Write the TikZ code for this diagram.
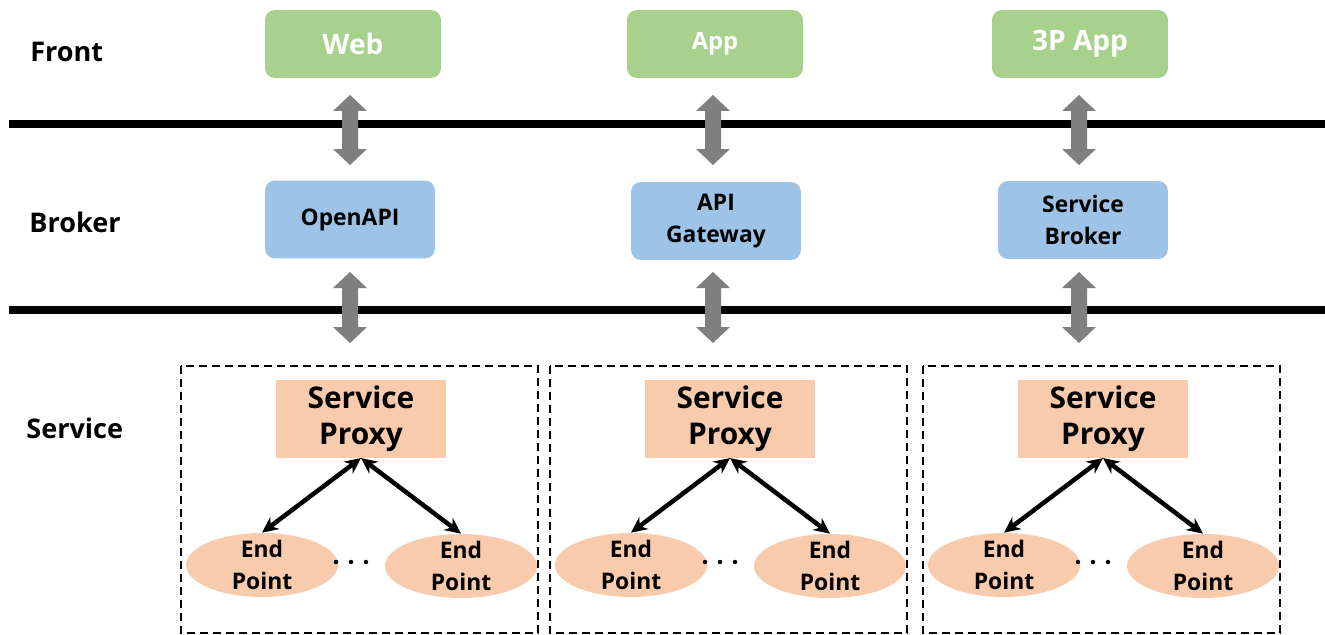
\documentclass[tikz,border=0pt]{standalone}
\usepackage{fontspec}
\setmainfont{Open Sans}
\usetikzlibrary{arrows.meta,shapes.geometric}
\definecolor{frontgreen}{HTML}{A9D18E}
\definecolor{brokerblue}{HTML}{9DC3E6}
\definecolor{svcpeach}{HTML}{F8CBAD}
\definecolor{arrowgray}{HTML}{7F7F7F}
\newcommand\grayud[3]{\fill[arrowgray] (#1,#2) -- ++(17,16) -- ++(-9,0) -- (#1+8,#3-16) -- ++(9,0) -- (#1,#3) -- ++(-17,-16) -- ++(9,0) -- (#1-8,#2+16) -- ++(-9,0) -- cycle;}
\begin{document}
\begin{tikzpicture}[x=0.02cm,y=-0.02cm,
  frontbox/.style={fill=frontgreen, rounded corners=0.2cm, minimum width=3.52cm, minimum height=1.36cm, text=white, font=\bfseries\fontsize{16}{19}\selectfont},
  brokerbox/.style={fill=brokerblue, rounded corners=0.2cm, minimum width=3.4cm, minimum height=1.56cm, align=center, font=\bfseries\fontsize{13}{18}\selectfont},
  proxybox/.style={fill=svcpeach, minimum width=3.4cm, minimum height=1.36cm, align=center, font=\bfseries\fontsize{17}{20.4}\selectfont},
  epshape/.style={ellipse, fill=svcpeach, minimum width=3.04cm, minimum height=1.28cm, inner sep=0pt},
  eptext/.style={align=center, font=\bfseries\fontsize{13}{18.7}\selectfont},
  layerlabel/.style={anchor=west, inner sep=0pt, font=\bfseries\fontsize{15.4}{18}\selectfont},
  layerline/.style={line width=0.16cm},
  dashbox/.style={draw, dash pattern=on 0.16cm off 0.1cm, line width=0.04cm},
  linkarrow/.style={{Stealth[length=0.32cm,width=0.3cm]}-{Stealth[length=0.32cm,width=0.3cm]}, line width=0.09cm}
]
\fill[white] (0,0) rectangle (1325,635);
\useasboundingbox (0,0) rectangle (1325,635);

% layer labels
\node[layerlabel] (lfront) at (30,52) {Front};
\node[layerlabel] (lbroker) at (29,222) {Broker};
\node[layerlabel] (lservice) at (26,428) {Service};

% separator lines
\draw[layerline] (9,124) -- (1325,124);
\draw[layerline] (9,310) -- (1325,310);

% front
\node[frontbox] (web) at (353,44) {Web};
\node[frontbox, font=\bfseries\fontsize{13.5}{16}\selectfont] (app) at (715,44) {App};
\node[frontbox] (tpapp) at (1080,44) {3P App};

% broker
\node[brokerbox] (openapi) at (350,219.5) {OpenAPI};
\node[brokerbox] (gateway) at (716,221) {API\\Gateway};
\node[brokerbox] (sbroker) at (1083,220) {Service\\Broker};

% gray arrows
\grayud{350}{95}{165}
\grayud{350}{272}{343}
\grayud{713}{95}{165}
\grayud{713}{272}{343}
\grayud{1079}{95}{165}
\grayud{1079}{272}{343}

% service groups
\foreach \i/\ox in {1/181, 2/550, 3/923} {
  \draw[dashbox] (\ox,366) rectangle (\ox+357,633);
  \node[proxybox] (proxy\i) at (\ox+180,419) {Service\\Proxy};
  \node[epshape] (epl\i) at (\ox+81,565) {};
  \node[epshape] (epr\i) at (\ox+280,566) {};
  \node[eptext] (eplt\i) at (epl\i.center) {End\\Point};
  \node[eptext] (eprt\i) at (epr\i.center) {End\\Point};
  \draw[linkarrow] (proxy\i.south) -- (epl\i.north);
  \draw[linkarrow] (proxy\i.south) -- (epr\i.north);
  \foreach \d in {0,15,30} \fill (\ox+155+\d,562) circle (0.045cm);
}
\end{tikzpicture}
\end{document}
